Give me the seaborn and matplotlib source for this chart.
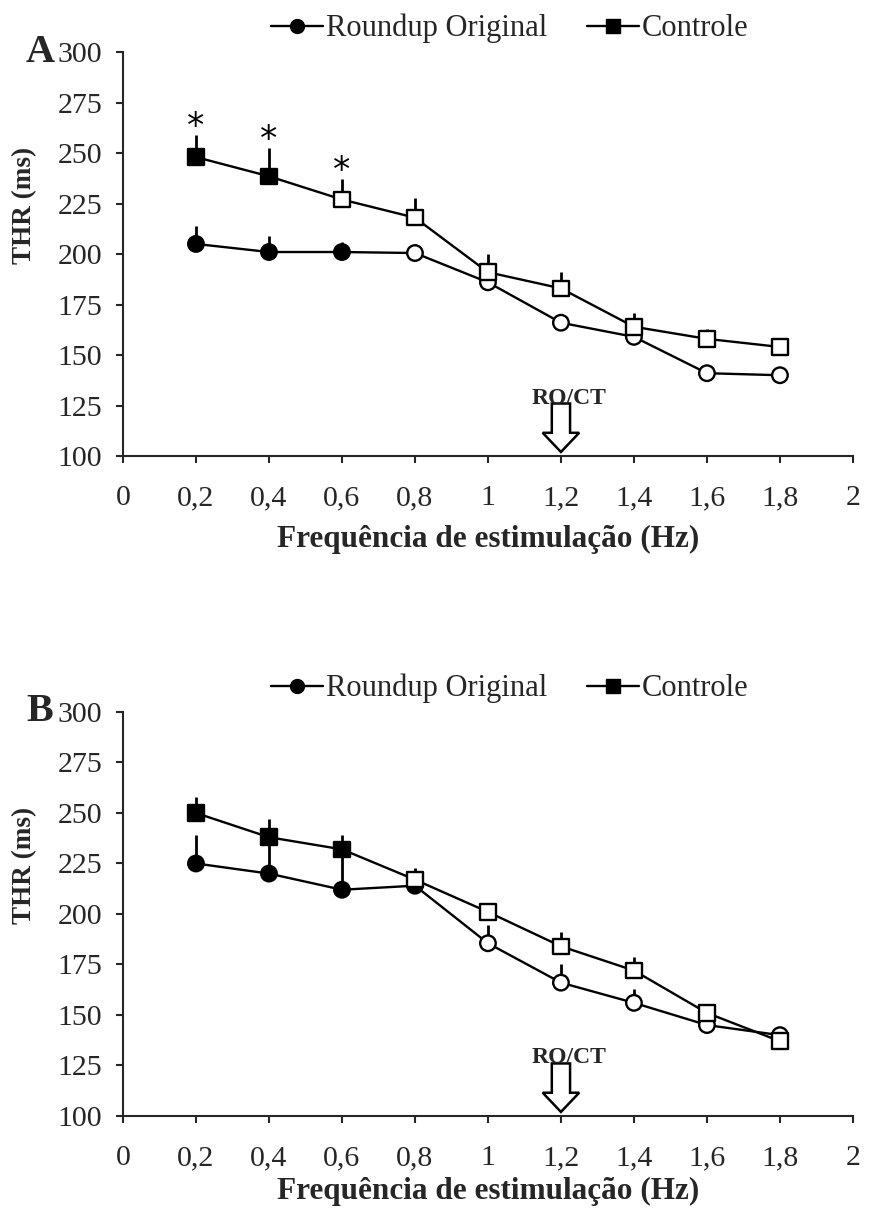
import numpy as np
import pandas as pd
import matplotlib
matplotlib.use("Agg")
import matplotlib.pyplot as plt
import seaborn as sns
from matplotlib.patches import FancyArrow
from matplotlib.lines import Line2D

# ---------------- data ----------------
freq = [0.2, 0.4, 0.6, 0.8, 1.0, 1.2, 1.4, 1.6, 1.8]

a_roundup = [205, 201, 201, 200.5, 186, 166, 159, 141, 140]
a_roundup_err = [9, 8, 5, 4.5, 3, 2, 2, 2, 2]
a_roundup_filled = [1, 1, 1, 0, 0, 0, 0, 0, 0]
a_controle = [248, 238.5, 227, 218, 191, 183, 164, 158, 154]
a_controle_err = [11, 14, 10, 9.5, 9, 8, 7, 5, 2]
a_controle_filled = [1, 1, 0, 0, 0, 0, 0, 0, 0]
a_signif = [1, 1, 1, 0, 0, 0, 0, 0, 0]

b_roundup = [225, 220, 212, 214, 185.5, 166, 156, 145, 140]
b_roundup_err = [14, 16, 17, 2, 9, 9, 7, 2, 2]
b_roundup_filled = [1, 1, 1, 1, 0, 0, 0, 0, 0]
b_controle = [250, 238, 232, 217, 201, 184, 172, 151, 137]
b_controle_err = [8, 9, 7, 6, 4, 7, 6.5, 4, 2]
b_controle_filled = [1, 1, 1, 0, 0, 0, 0, 0, 0]
b_signif = [0, 0, 0, 0, 0, 0, 0, 0, 0]

xticks = [0, 0.2, 0.4, 0.6, 0.8, 1.0, 1.2, 1.4, 1.6, 1.8, 2.0]
xtick_labels = ["0", "0,2", "0,4", "0,6", "0,8", "1", "1,2", "1,4", "1,6", "1,8", "2"]
yticks = [100, 125, 150, 175, 200, 225, 250, 275, 300]
series_names = ["Roundup Original", "Controle"]
arrow_x = 1.2
arrow_label = "RO/CT"

# ---------------- style ----------------
sns.set_style("ticks")
plt.rcParams['font.family'] = ['Liberation Serif', 'DejaVu Serif']
plt.rcParams['axes.linewidth'] = 1.5
plt.rcParams['xtick.major.width'] = 1.5
plt.rcParams['ytick.major.width'] = 1.5

fig = plt.figure(figsize=(8.69, 12.08), dpi=100)
axA = fig.add_axes([0.1415, 0.6225, 0.840, 0.3344])
axB = fig.add_axes([0.1415, 0.0762, 0.840, 0.3344])


def draw_panel(ax, letter, rnd, rnd_err, rnd_fill, ctl, ctl_err, ctl_fill, signif,
               xlabel_pad):
    df_r = pd.DataFrame({"x": freq, "y": rnd, "err": rnd_err, "filled": rnd_fill})
    df_c = pd.DataFrame({"x": freq, "y": ctl, "err": ctl_err, "filled": ctl_fill})
    # upward-only error bars
    for df in (df_r, df_c):
        ax.vlines(df["x"], df["y"], df["y"] + df["err"], color="black", lw=2, zorder=1)
    # lines
    sns.lineplot(data=df_r, x="x", y="y", color="black", lw=1.7, ax=ax, zorder=2,
                 estimator=None, sort=False)
    sns.lineplot(data=df_c, x="x", y="y", color="black", lw=1.7, ax=ax, zorder=4,
                 estimator=None, sort=False)
    # markers
    pal = {1: "black", 0: "white"}
    sns.scatterplot(data=df_r, x="x", y="y", hue="filled", palette=pal, marker="o",
                    s=125, edgecolor="black", linewidth=1.7, legend=False, ax=ax, zorder=3)
    sns.scatterplot(data=df_c, x="x", y="y", hue="filled", palette=pal, marker="s",
                    s=125, edgecolor="black", linewidth=1.7, legend=False, ax=ax, zorder=5)
    # significance asterisks
    for xi, yi, ei, sg in zip(freq, ctl, ctl_err, signif):
        if sg:
            ax.text(xi, yi + ei - 4.5, "*", ha="center", va="bottom", fontsize=25,
                    fontfamily="DejaVu Sans", color="black")

    ax.set_xlim(0, 2)
    ax.set_ylim(100, 300)
    ax.set_xticks(xticks)
    ax.set_xticklabels(xtick_labels)
    ax.set_yticks(yticks)
    ax.tick_params(axis="both", direction="out", length=5, labelsize=21.5)
    ax.tick_params(axis="x", pad=16)
    ax.tick_params(axis="y", pad=10)
    sns.despine(ax=ax)
    ax.set_xlabel("Frequência de estimulação (Hz)", fontsize=22.5, fontweight="bold",
                  labelpad=xlabel_pad)
    ax.set_ylabel("THR (ms)", fontsize=19.5, fontweight="bold")
    ax.yaxis.set_label_coords(-0.118, 0.62)

    ax.text(-0.114, 1.0, letter, transform=ax.transAxes, fontsize=29, fontweight="bold",
            ha="center", va="center")

    # arrow marking RO/CT
    arr = FancyArrow(arrow_x, 126, 0, -24, width=0.05, head_width=0.10, head_length=9.5,
                     length_includes_head=True, facecolor="white", edgecolor="black",
                     lw=1.8, zorder=6)
    ax.add_patch(arr)
    ax.text(arrow_x + 0.022, 126.0, arrow_label, ha="center", va="baseline",
            fontsize=17, fontweight="bold", zorder=7)

    handles = [Line2D([0], [0], color="black", lw=1.7, marker="o", markersize=10,
                      markerfacecolor="black", markeredgecolor="black"),
               Line2D([0], [0], color="black", lw=1.7, marker="s", markersize=10,
                      markerfacecolor="black", markeredgecolor="black")]
    ax.legend(handles, series_names, loc="center", bbox_to_anchor=(0.53, 1.058),
              ncol=2, frameon=False, fontsize=22, handlelength=1.7, handletextpad=0.1,
              columnspacing=1.3, borderaxespad=0)


draw_panel(axA, "A", a_roundup, a_roundup_err, a_roundup_filled,
           a_controle, a_controle_err, a_controle_filled, a_signif, 10)
draw_panel(axB, "B", b_roundup, b_roundup_err, b_roundup_filled,
           b_controle, b_controle_err, b_controle_filled, b_signif, 4)

fig.savefig("out.png", dpi=100, facecolor="white")
